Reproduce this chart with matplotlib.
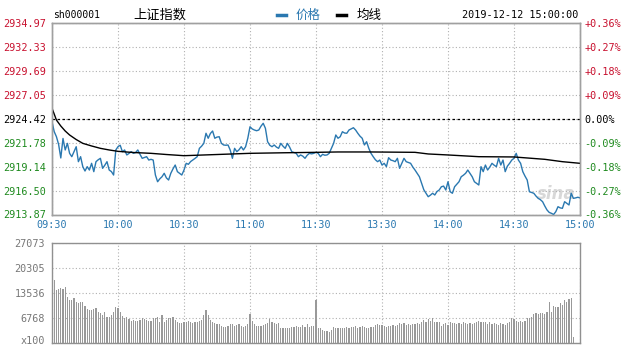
import numpy as np
import matplotlib.pyplot as plt
import matplotlib.transforms as mtransforms
from matplotlib.lines import Line2D

plt.rcParams['font.family'] = ['DejaVu Sans', 'Noto Sans CJK SC']

# previous close of the index
prev_close = 2924.42

# one price per minute, 09:30 .. 11:30 then 13:01 .. 15:00
price = [
    2924.10, 2923.00, 2922.45, 2921.60, 2920.10, 2922.25, 2920.98, 2921.71, 2920.61, 2920.24,
    2920.79, 2921.34, 2919.69, 2920.24, 2919.14, 2918.66, 2919.14, 2918.77, 2919.51, 2918.59,
    2919.69, 2919.90, 2920.06, 2918.96, 2919.30, 2919.69, 2918.77, 2918.60, 2918.22, 2920.98,
    2921.34, 2921.50, 2920.79, 2920.98, 2920.43, 2920.60, 2920.79, 2920.61, 2920.70, 2920.98,
    2920.50, 2920.06, 2920.15, 2920.24, 2919.87, 2919.95, 2919.87, 2918.22, 2917.48, 2917.80,
    2918.03, 2918.41, 2917.90, 2917.67, 2918.41, 2918.90, 2919.32, 2918.59, 2918.40, 2918.22,
    2918.77, 2919.51, 2919.40, 2919.70, 2919.87, 2920.05, 2920.24, 2921.16, 2921.40, 2921.71,
    2922.82, 2922.27, 2922.80, 2923.07, 2922.27, 2922.40, 2922.44, 2921.71, 2921.53, 2921.50,
    2921.53, 2920.98, 2920.06, 2921.16, 2920.79, 2921.00, 2921.34, 2920.98, 2921.34, 2922.27,
    2923.54, 2923.30, 2923.18, 2923.10, 2923.18, 2923.60, 2923.92, 2923.37, 2921.89, 2921.50,
    2921.34, 2921.53, 2921.30, 2921.16, 2921.71, 2921.40, 2921.16, 2921.71, 2921.30, 2920.79,
    2920.70, 2920.61, 2920.24, 2920.43, 2920.30, 2920.06, 2920.40, 2920.61, 2920.55, 2920.61,
    2920.72,
    2920.61, 2920.24, 2920.50, 2920.40, 2920.43, 2920.61, 2921.16, 2921.71, 2922.63, 2922.27,
    2922.44, 2922.99, 2922.85, 2922.82, 2923.18, 2923.30, 2923.43, 2923.18, 2922.82, 2922.50,
    2922.27, 2921.53, 2921.89, 2921.16, 2920.61, 2920.24, 2919.90, 2919.69, 2919.87, 2919.32,
    2919.51, 2919.14, 2920.13, 2919.87, 2919.80, 2919.69, 2920.06, 2918.96, 2919.51, 2920.06,
    2919.69, 2919.60, 2919.51, 2919.10, 2918.77, 2918.40, 2918.03, 2917.31, 2916.60, 2916.21,
    2915.83, 2916.00, 2916.21, 2916.02, 2916.40, 2916.57, 2916.93, 2917.00, 2916.57, 2917.48,
    2916.38, 2916.21, 2916.93, 2917.20, 2917.48, 2918.03, 2918.20, 2918.41, 2918.77, 2918.40,
    2918.03, 2917.48, 2917.30, 2917.12, 2919.14, 2918.59, 2919.32, 2918.77, 2919.10, 2919.51,
    2919.30, 2919.14, 2920.06, 2919.32, 2919.87, 2918.59, 2919.20, 2919.51, 2919.87, 2920.06,
    2920.61, 2919.87, 2919.51, 2918.59, 2918.10, 2917.67, 2916.38, 2916.30, 2916.21, 2915.90,
    2915.65, 2915.50, 2915.28, 2914.80, 2914.37, 2914.10, 2914.00, 2913.87, 2914.18, 2914.73,
    2914.60, 2914.55, 2915.28, 2915.10, 2914.92, 2916.21, 2915.65, 2915.70, 2915.77, 2915.70,
]

# average price line (minute index, value)
avg_min = [0, 1, 2, 4, 6, 8, 11, 14, 18, 22, 26, 30, 37, 45, 52, 60, 75, 90, 105, 120,
           130, 145, 165, 171, 180, 194, 210, 224, 232, 240]
avg_val = [2925.57, 2924.94, 2924.28, 2923.62, 2923.07, 2922.63, 2922.13, 2921.71, 2921.42,
           2921.16, 2920.98, 2920.83, 2920.70, 2920.61, 2920.48, 2920.35, 2920.48, 2920.61,
           2920.67, 2920.72, 2920.76, 2920.76, 2920.72, 2920.54, 2920.43, 2920.24, 2920.21,
           2919.95, 2919.69, 2919.51]

# volume (x100 shares) per minute
vol_am = [
    17060, 14350, 14620, 14800, 14530, 15250, 12540, 11640, 11640, 12270,
    11190, 10920, 11190, 11190, 10110, 9200, 8930, 8930, 9200, 9390,
    8480, 8030, 7580, 8480, 7130, 7130, 7580, 8300, 9840, 9390,
    8480, 7310, 6860, 7130, 6500, 5960, 6230, 5960, 5960, 6230,
    6680, 6500, 6230, 5960, 5960, 6860, 6680, 7130, 5780, 7580,
    5780, 6230, 6680, 6860, 7130, 6230, 5780, 5320, 5320, 5600,
    5780, 5960, 5600, 5510, 5600, 5600, 5960, 6230, 7580, 8930,
    7580, 6230, 5600, 5320, 5050, 5050, 4690, 4420, 4420, 4690,
    5050, 5050, 4690, 4870, 5050, 4690, 4420, 4690, 5050, 7760,
    5960, 5050, 4690, 4690, 4690, 4870, 5050, 5320, 6500, 5600,
    5320, 5050, 5320, 4150, 4150, 4150, 4150, 4150, 4420, 4420,
    4690, 4420, 4420, 4870, 4420, 5050, 4420, 4690, 4690, 11640,
]
vol_pm = [
    4150, 3970, 3520, 3250, 3250, 3070, 3520, 4420, 4150, 3970,
    4150, 3970, 4150, 4420, 4150, 4420, 4420, 4690, 3970, 4420,
    4690, 4420, 4150, 4150, 4420, 4420, 4870, 5050, 4870, 4870,
    4690, 4420, 4690, 4690, 4870, 4690, 4870, 5320, 5050, 5320,
    4870, 5050,
    4870, 5050, 5050, 5320, 5050, 5780, 6230, 5780, 6500, 5960,
    6680, 5600, 5780, 5780, 4690, 5050, 5320, 4870, 5600, 5320,
    5320, 5050, 5320, 5050, 5600, 5320, 5050, 5320, 5050, 5320,
    5600, 5960, 5600, 5780, 5600, 5050, 5780, 5050, 5320, 5050,
    4870, 5320, 5050, 4870, 5320, 5600, 6680, 6500, 5960, 5600,
    5960, 5600, 5960, 6680, 6860, 7130, 7760, 8030, 7760, 8030,
    8030, 7760, 8480, 11010, 8300, 10110, 9840, 9840, 10740, 10290,
    11640, 11190, 11910, 12090, 1720,
]

price_ticks = [2913.87, 2916.50, 2919.14, 2921.78, 2924.42, 2927.05, 2929.69, 2932.33, 2934.97]
price_labels = ['2913.87', '2916.50', '2919.14', '2921.78', '2924.42', '2927.05', '2929.69',
                '2932.33', '2934.97']
pct_labels = ['-0.36%', '-0.27%', '-0.18%', '-0.09%', '0.00%', '+0.09%', '+0.18%', '+0.27%',
              '+0.36%']
time_ticks = [0, 30, 60, 90, 120, 150, 180, 210, 240]
time_labels = ['09:30', '10:00', '10:30', '11:00', '11:30', '13:30', '14:00', '14:30', '15:00']
vol_ticks = [0, 6768, 13536, 20305, 27073]
vol_labels = ['x100', '6768', '13536', '20305', '27073']

W, H = 631, 346
RED = '#c8102e'
GREEN = '#1e8a1e'
BLUE = '#2a78b0'
MONO = 'DejaVu Sans Mono'

fig = plt.figure(figsize=(W / 100, H / 100), dpi=100)
ax = fig.add_axes([52 / W, 1 - 214.5 / H, 528 / W, 191.5 / H])
axv = fig.add_axes([52 / W, 3 / H, 528 / W, 100 / H])

minutes = np.arange(len(price))
ax.plot(minutes, price, color=BLUE, lw=1.0, zorder=3)
ax.plot(avg_min, avg_val, color='black', lw=1.0, zorder=3)
ax.axhline(prev_close, color='black', ls=(0, (2, 2)), lw=0.9, zorder=2)
ax.set_xlim(0, 240)
ax.set_ylim(price_ticks[0], price_ticks[-1])
ax.set_yticks(price_ticks)
ax.set_yticklabels(price_labels, family=MONO, fontsize=7.3)
ax.set_xticks(time_ticks)
ax.set_xticklabels(time_labels, family=MONO, fontsize=7.3, color=BLUE)
ax.tick_params(length=0, pad=4)
ax.grid(True, ls=(0, (1, 2)), color='#b0b0b0', lw=0.8)
for lab, v in zip(ax.get_yticklabels(), price_ticks):
    lab.set_color(RED if v > prev_close + 0.01 else GREEN if v < prev_close - 0.01 else 'black')

ax2 = ax.twinx()
ax2.set_ylim(price_ticks[0], price_ticks[-1])
ax2.set_yticks(price_ticks)
ax2.set_yticklabels(pct_labels, family=MONO, fontsize=7.3)
ax2.tick_params(length=0, pad=3)
for lab, v in zip(ax2.get_yticklabels(), price_ticks):
    lab.set_color(RED if v > prev_close + 0.01 else GREEN if v < prev_close - 0.01 else 'black')

for a in (ax, ax2):
    for s in a.spines.values():
        s.set_color('#a0a0a0')
        s.set_linewidth(1.0)

ax.text(0.955, 0.06, 'sina', transform=ax.transAxes, fontsize=12, fontstyle='italic',
        fontweight='bold', color='#d8d8d8', ha='center', va='bottom', zorder=1)

# volume panel
axv.bar(np.arange(1, 1 + len(vol_am)), vol_am, width=0.5, color='#999999', lw=0, zorder=3)
axv.bar(np.arange(121, 121 + len(vol_pm)), vol_pm, width=0.5, color='#999999', lw=0, zorder=3)
axv.set_xlim(0, 240)
axv.set_ylim(0, vol_ticks[-1])
axv.set_xticks(time_ticks)
axv.set_xticklabels([])
axv.set_yticks(vol_ticks)
axv.set_yticklabels(vol_labels, family=MONO, fontsize=7.3, color='#777777')
axv.tick_params(length=0, pad=5)
axv.grid(True, ls=(0, (1, 2)), color='#b0b0b0', lw=0.8)
for s in axv.spines.values():
    s.set_color('#909090')
    s.set_linewidth(1.0)
# lift the bottom unit label a little so it stays inside the picture
low = axv.get_yticklabels()[0]
low.set_transform(low.get_transform() + mtransforms.ScaledTranslation(0, 3 / 100, fig.dpi_scale_trans))

# header
fig.text(53 / W, 1 - 15 / H, 'sh000001', family=MONO, fontsize=7.0, va='center')
fig.text(133 / W, 1 - 15 / H, '上证指数', family=['Noto Sans CJK SC'], fontsize=9.5, va='center')
fig.add_artist(Line2D([277 / W, 286 / W], [1 - 15 / H, 1 - 15 / H], color=BLUE, lw=2.5))
fig.text(296 / W, 1 - 15 / H, '价格', family=['Noto Sans CJK SC'], fontsize=9, va='center',
         color=BLUE)
fig.add_artist(Line2D([337 / W, 346 / W], [1 - 15 / H, 1 - 15 / H], color='black', lw=2.5))
fig.text(357 / W, 1 - 15 / H, '均线', family=['Noto Sans CJK SC'], fontsize=9, va='center')
fig.text(578 / W, 1 - 15 / H, '2019-12-12 15:00:00', family=MONO, fontsize=7.3, va='center',
         ha='right')

fig.savefig('out.png', dpi=100)
